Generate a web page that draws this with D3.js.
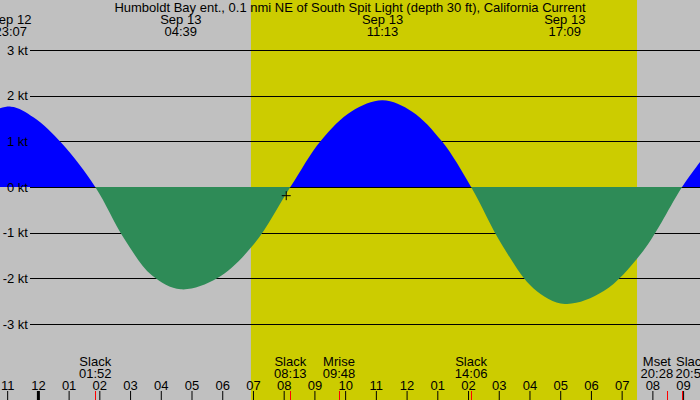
<!DOCTYPE html>
<html>
<head>
<meta charset="utf-8">
<script src="https://cdn.jsdelivr.net/npm/d3@7"></script>
<style>
  body { margin: 0; }
  svg { display: block; font-family: "Liberation Sans", Arial, sans-serif; }
</style>
</head>
<body>
<div id="chart"></div>
<script>
const title = "Humboldt Bay ent., 0.1 nmi NE of South Spit Light (depth 30 ft), California Current";

// current readings (time, knots), flood positive / ebb negative
const curveTimes = ["2023-09-12 20:15", "2023-09-12 21:12", "2023-09-12 22:10", "2023-09-12 23:07",
    "2023-09-12 23:52", "2023-09-13 00:47", "2023-09-13 01:52", "2023-09-13 02:48", "2023-09-13 03:43",
    "2023-09-13 04:39", "2023-09-13 05:50", "2023-09-13 07:02", "2023-09-13 08:13",
    "2023-09-13 09:13", "2023-09-13 10:13", "2023-09-13 11:13", "2023-09-13 12:11", "2023-09-13 13:09",
    "2023-09-13 14:06", "2023-09-13 15:07", "2023-09-13 16:08", "2023-09-13 17:09", "2023-09-13 18:25",
    "2023-09-13 19:42", "2023-09-13 20:58", "2023-09-13 21:33", "2023-09-13 22:00", "2023-09-13 23:00"];
const curveKnots = [0, 0.88, 1.52, 1.76,
    1.52, 0.95, 0, -1.12, -1.94,
    -2.24, -2.0, -1.25, 0,
    1.02, 1.66, 1.9, 1.65, 1.0,
    0, -1.28, -2.22, -2.56, -2.28,
    -1.4, 0, 0.55, 0.95, 1.55];

// max current labels at the top
const maxTimes = ["2023-09-12 23:07", "2023-09-13 04:39", "2023-09-13 11:13", "2023-09-13 17:09"];
const maxDays = ["Sep 12", "Sep 13", "Sep 13", "Sep 13"];
const maxClock = ["23:07", "04:39", "11:13", "17:09"];

// slack / moon events at the bottom
const eventNames = ["Slack", "Slack", "Mrise", "Slack", "Mset", "Slack"];
const eventTimes = ["2023-09-13 01:52", "2023-09-13 08:13", "2023-09-13 09:48", "2023-09-13 14:06",
    "2023-09-13 20:28", "2023-09-13 20:58"];

const sunrise = "2023-09-13 06:56";
const sunset = "2023-09-13 19:30";
const nowTime = "2023-09-13 08:05";
const nowKnots = -0.19;

const ktTicks = [3, 2, 1, 0, -1, -2, -3];
const startTime = "2023-09-12 22:46";
const endTime = "2023-09-13 21:33";

const parse = d3.timeParse("%Y-%m-%d %H:%M");
const clock = d3.timeFormat("%H:%M");

let width = 700;
let height = 400;

let x = d3.scaleTime()
    .domain([parse(startTime), parse(endTime)])
    .range([0, width]);
let y = d3.scaleLinear()
    .domain([-3, 3])
    .range([324, 50]);

let svg = d3.select("#chart")
    .append("svg")
    .attr("width", width)
    .attr("height", height);

// night / day background
svg.append("rect")
    .attr("width", width)
    .attr("height", height)
    .style("fill", "#c0c0c0");
svg.append("rect")
    .attr("x", x(parse(sunrise)))
    .attr("y", 0)
    .attr("width", x(parse(sunset)) - x(parse(sunrise)))
    .attr("height", height)
    .style("fill", "#cccc00");

// grid lines
svg.selectAll("line.grid")
    .data(ktTicks)
    .enter()
    .append("line")
    .attr("class", "grid")
    .attr("x1", 30)
    .attr("x2", width)
    .attr("y1", (d) => Math.round(y(d)) + 0.5)
    .attr("y2", (d) => Math.round(y(d)) + 0.5)
    .style("stroke", "black")
    .style("stroke-width", 1)
    .attr("shape-rendering", "crispEdges");

// current curve, blue above zero and green below
let points = curveTimes.map((t, i) => [parse(t), curveKnots[i]]);
let zero = Math.round(y(0));
let area = d3.area()
    .curve(d3.curveCatmullRom.alpha(0.5))
    .x((d) => x(d[0]))
    .y0(y(0))
    .y1((d) => y(d[1]));

let defs = svg.append("defs");
defs.append("clipPath").attr("id", "clipPos")
    .append("rect").attr("x", 0).attr("y", 0).attr("width", width).attr("height", zero);
defs.append("clipPath").attr("id", "clipNeg")
    .append("rect").attr("x", 0).attr("y", zero).attr("width", width).attr("height", height - zero);

svg.append("path")
    .datum(points)
    .attr("d", area)
    .attr("clip-path", "url(#clipPos)")
    .style("fill", "#0000ff");
svg.append("path")
    .datum(points)
    .attr("d", area)
    .attr("clip-path", "url(#clipNeg)")
    .style("fill", "#2e8b57");

// current time marker
let mx = x(parse(nowTime));
let my = y(nowKnots);
svg.append("path")
    .attr("d", "M" + (mx - 4.5) + "," + my + "H" + (mx + 4.5) + "M" + mx + "," + (my - 4.5) + "V" + (my + 4.5))
    .style("stroke", "black")
    .style("stroke-width", 1)
    .style("fill", "none");

// knot labels
svg.selectAll("text.kt")
    .data(ktTicks)
    .enter()
    .append("text")
    .attr("class", "kt")
    .attr("x", 28)
    .attr("y", (d) => y(d))
    .attr("dy", "0.35em")
    .attr("text-anchor", "end")
    .style("font-size", "13px")
    .text((d) => d + " kt");

// title and max current labels
svg.append("text")
    .attr("x", width / 2)
    .attr("y", 11.5)
    .attr("text-anchor", "middle")
    .style("font-size", "13px")
    .text(title);

for(let i = 0; i < maxTimes.length; i++) {
    let mxx = x(parse(maxTimes[i]));
    svg.append("text")
        .attr("x", mxx)
        .attr("y", 24)
        .attr("text-anchor", "middle")
        .style("font-size", "13px")
        .text(maxDays[i]);
    svg.append("text")
        .attr("x", mxx)
        .attr("y", 36)
        .attr("text-anchor", "middle")
        .style("font-size", "13px")
        .text(maxClock[i]);
}

// hour axis along the bottom
let axis = d3.axisTop(x)
    .ticks(d3.timeHour.every(1))
    .tickFormat(d3.timeFormat("%I"))
    .tickSizeInner(9)
    .tickSizeOuter(0)
    .tickPadding(1);

let gx = svg.append("g")
    .attr("transform", "translate(0," + height + ")")
    .call(axis);
gx.select(".domain").remove();
gx.attr("font-family", null).attr("font-size", null);
gx.selectAll("text")
    .style("font-size", "13px")
    .style("fill", "black");
gx.selectAll("line")
    .style("stroke", "black")
    .style("stroke-width", (d) => d.getHours() == 0 ? 3 : 1);

// event ticks and labels, pushed apart where they would overlap
let events = eventTimes.map((t, i) => ({name: eventNames[i], time: parse(t), cx: x(parse(t))}));
let labelWidth = 35;
for(let i = 1; i < events.length; i++) {
    let gap = events[i].cx - events[i - 1].cx;
    if(gap < labelWidth) {
        let push = (labelWidth - gap) / 2;
        events[i - 1].cx -= push;
        events[i].cx += push;
    }
}

svg.selectAll("line.event")
    .data(events)
    .enter()
    .append("line")
    .attr("class", "event")
    .attr("x1", (d) => Math.round(x(d.time)) + 0.5)
    .attr("x2", (d) => Math.round(x(d.time)) + 0.5)
    .attr("y1", 391)
    .attr("y2", height)
    .style("stroke", "red")
    .style("stroke-width", 1);

svg.selectAll("text.eventName")
    .data(events)
    .enter()
    .append("text")
    .attr("class", "eventName")
    .attr("x", (d) => d.cx)
    .attr("y", 366)
    .attr("text-anchor", "middle")
    .style("font-size", "13px")
    .text((d) => d.name);

svg.selectAll("text.eventTime")
    .data(events)
    .enter()
    .append("text")
    .attr("class", "eventTime")
    .attr("x", (d) => d.cx)
    .attr("y", 378)
    .attr("text-anchor", "middle")
    .style("font-size", "13px")
    .text((d) => clock(d.time));
</script>
</body>
</html>
